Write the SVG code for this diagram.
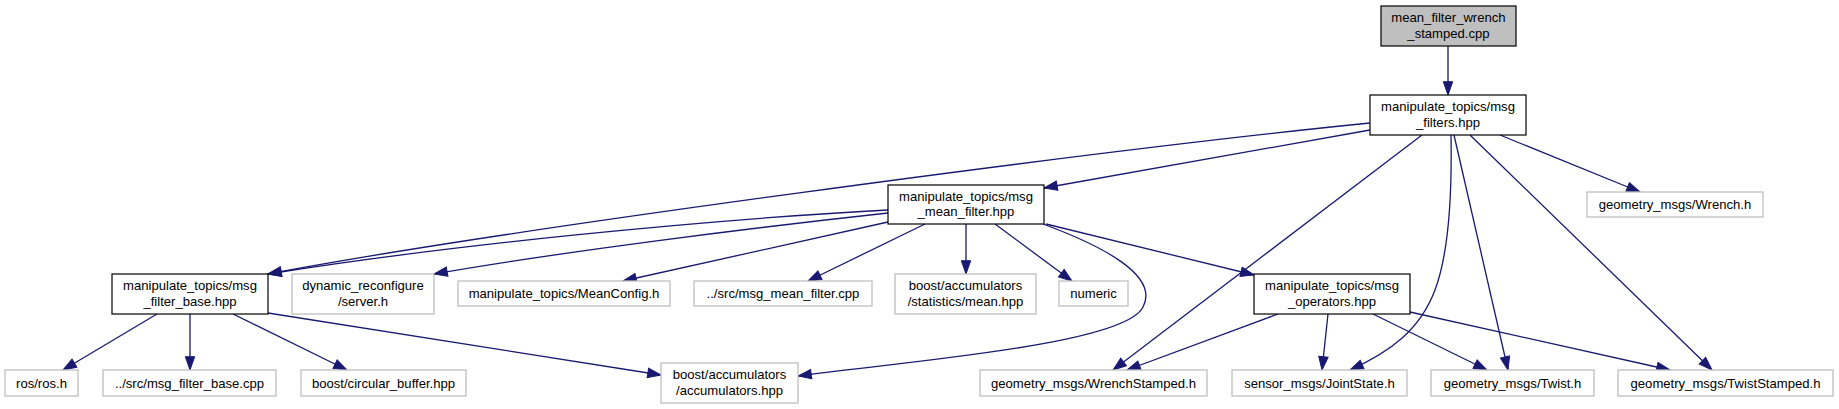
<svg xmlns="http://www.w3.org/2000/svg" width="1839" height="409" viewBox="0 0 1839 409">
<style>
text{font-family:"Liberation Sans",Arial,Helvetica,sans-serif;font-size:13.1px;fill:#000;text-anchor:middle}
.doc{fill:#fff;stroke:#000;stroke-width:1.2}
.root{fill:#bfbfbf;stroke:#000;stroke-width:1.2}
.ext{fill:#fff;stroke:#bfbfbf;stroke-width:1.3}
#edges path{fill:none;stroke:#191970;stroke-width:1.3;marker-end:url(#ah)}
</style>
<defs>
<marker id="ah" viewBox="-1 -6 15 12" refX="13.3" refY="0" markerWidth="15" markerHeight="12" markerUnits="userSpaceOnUse" orient="auto">
<path d="M0,-4.7 L13.3,0 L0,4.7 Z" fill="#191970" stroke="#191970" stroke-width="1"/>
</marker>
</defs>
<rect width="1839" height="409" fill="#fff"/>
<g id="edges">
<path d="M1448,46 L1448,95"/>
<path d="M1500,135 L1640,192"/>
<path d="M1370,123 C1100,150 500,230 268,274"/>
<path d="M1370,130 L1044,188"/>
<path d="M1422,135 L1113,370"/>
<path d="M1451,135 C1452,190 1450,250 1435,290 C1420,330 1390,352 1350,370"/>
<path d="M1454,135 L1508,370"/>
<path d="M1470,135 L1712,370"/>
<path d="M888,210 C700,220 450,245 268,274"/>
<path d="M888,213 C750,228 560,252 434,274"/>
<path d="M888,222 L623,281"/>
<path d="M925,224 L808,281"/>
<path d="M966,224 L966,274"/>
<path d="M995,224 L1072,281"/>
<path d="M1043,224 C1100,245 1160,275 1143,307 C1125,345 900,362 798,376"/>
<path d="M1046,224 L1254,275"/>
<path d="M157,314 L63,370"/>
<path d="M190,314 L190,370"/>
<path d="M233,314 L347,370"/>
<path d="M268,313 L661,375"/>
<path d="M1278,314 L1127,370"/>
<path d="M1328,314 L1322,370"/>
<path d="M1373,314 L1487,370"/>
<path d="M1410,312 L1670,370"/>
</g>
<g id="node_root"><rect class="root" x="1381" y="6" width="135" height="40"/><text x="1448.5" y="22">mean_filter_wrench</text><text x="1448.5" y="37.5">_stamped.cpp</text></g>
<g id="node_msg_filters"><rect class="doc" x="1370" y="95" width="156" height="40"/><text x="1448" y="111">manipulate_topics/msg</text><text x="1448" y="126.5">_filters.hpp</text></g>
<g id="node_msg_mean_filter"><rect class="doc" x="888" y="185" width="156" height="39"/><text x="966" y="200.5">manipulate_topics/msg</text><text x="966" y="216">_mean_filter.hpp</text></g>
<g id="node_wrench"><rect class="ext" x="1587" y="192" width="176" height="25"/><text x="1675" y="209">geometry_msgs/Wrench.h</text></g>
<g id="node_msg_filter_base"><rect class="doc" x="112" y="274" width="156" height="40"/><text x="190" y="290">manipulate_topics/msg</text><text x="190" y="305.5">_filter_base.hpp</text></g>
<g id="node_dynreconf"><rect class="ext" x="292" y="274" width="142" height="40"/><text x="363" y="290">dynamic_reconfigure</text><text x="363" y="305.5">/server.h</text></g>
<g id="node_meanconfig"><rect class="ext" x="458" y="281" width="212" height="25"/><text x="564" y="298">manipulate_topics/MeanConfig.h</text></g>
<g id="node_mean_filter_cpp"><rect class="ext" x="694" y="281" width="178" height="25"/><text x="783" y="298">../src/msg_mean_filter.cpp</text></g>
<g id="node_mean_hpp"><rect class="ext" x="895" y="274" width="141" height="40"/><text x="965.5" y="290">boost/accumulators</text><text x="965.5" y="305.5">/statistics/mean.hpp</text></g>
<g id="node_numeric"><rect class="ext" x="1059" y="281" width="69" height="25"/><text x="1093.5" y="298">numeric</text></g>
<g id="node_msg_operators"><rect class="doc" x="1254" y="274" width="156" height="40"/><text x="1332" y="290">manipulate_topics/msg</text><text x="1332" y="305.5">_operators.hpp</text></g>
<g id="node_ros"><rect class="ext" x="5" y="370" width="73" height="26"/><text x="41.5" y="387.5">ros/ros.h</text></g>
<g id="node_filter_base_cpp"><rect class="ext" x="103" y="370" width="173" height="26"/><text x="189.5" y="387.5">../src/msg_filter_base.cpp</text></g>
<g id="node_circular"><rect class="ext" x="301" y="370" width="165" height="26"/><text x="383.5" y="387.5">boost/circular_buffer.hpp</text></g>
<g id="node_accumulators"><rect class="ext" x="661" y="363" width="137" height="40"/><text x="729.5" y="379">boost/accumulators</text><text x="729.5" y="394.5">/accumulators.hpp</text></g>
<g id="node_wrenchstamped"><rect class="ext" x="980" y="370" width="227" height="26"/><text x="1093.5" y="387.5">geometry_msgs/WrenchStamped.h</text></g>
<g id="node_jointstate"><rect class="ext" x="1232" y="370" width="175" height="26"/><text x="1319.5" y="387.5">sensor_msgs/JointState.h</text></g>
<g id="node_twist"><rect class="ext" x="1431" y="370" width="163" height="26"/><text x="1512.5" y="387.5">geometry_msgs/Twist.h</text></g>
<g id="node_twiststamped"><rect class="ext" x="1618" y="370" width="215" height="26"/><text x="1725.5" y="387.5">geometry_msgs/TwistStamped.h</text></g>
</svg>
